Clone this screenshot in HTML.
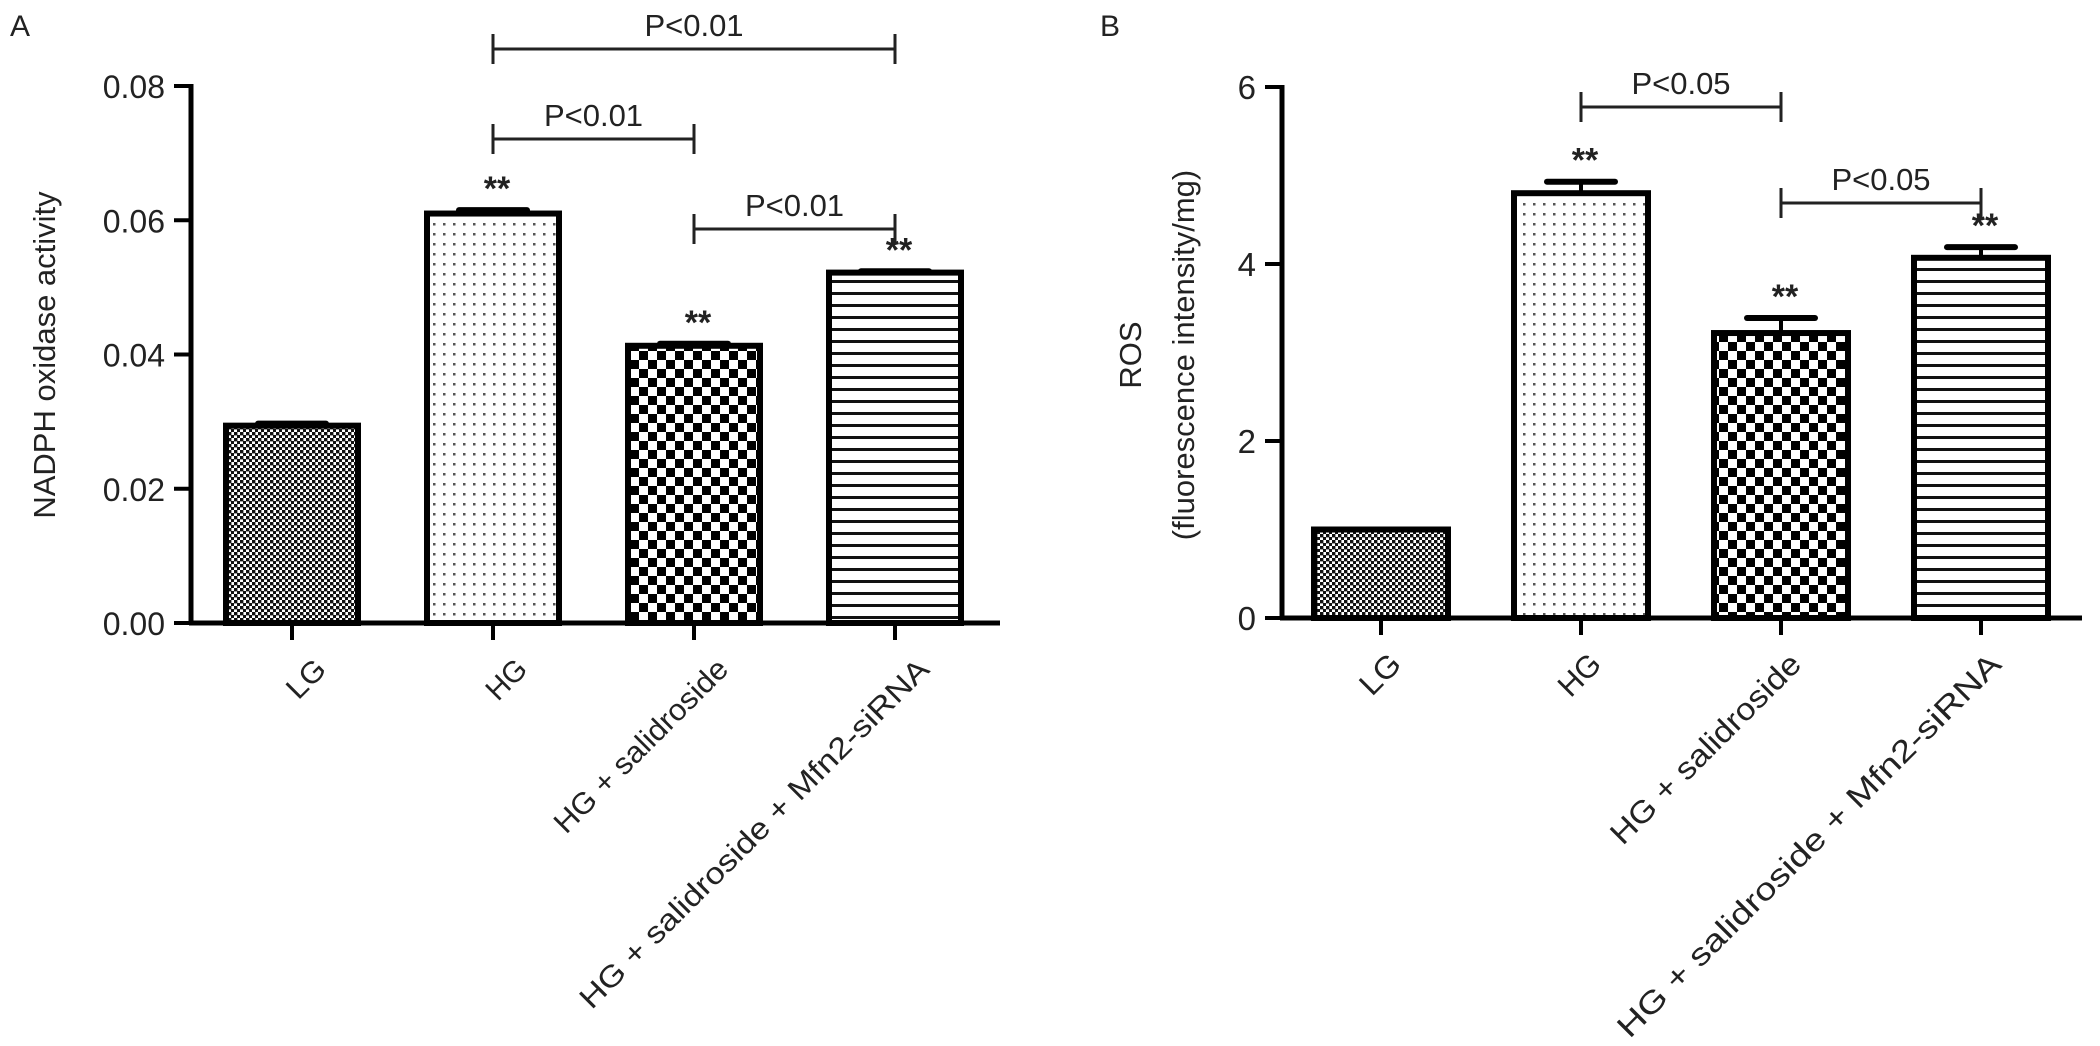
<!DOCTYPE html>
<html><head><meta charset="utf-8"><style>
html,body{margin:0;padding:0;background:#fff}
svg{display:block;font-family:"Liberation Sans",Arial,sans-serif}
</style></head><body>
<svg id="fig" width="2100" height="1046" viewBox="0 0 2100 1046">
<defs>
<pattern id="pLG" width="6" height="6" patternUnits="userSpaceOnUse"><rect width="6" height="6" fill="#fff"/><rect width="3.4" height="3.4" fill="#111"/><rect x="3" y="3" width="3.4" height="3.4" fill="#111"/></pattern>
<pattern id="pHG" width="10" height="10" patternUnits="userSpaceOnUse"><rect width="10" height="10" fill="#fff"/><rect x="3" y="3" width="2.5" height="2.5" fill="#555"/></pattern>
<pattern id="pSal" width="18" height="18" patternUnits="userSpaceOnUse"><rect width="18" height="18" fill="#fff"/><rect width="9" height="9" fill="#000"/><rect x="9" y="9" width="9" height="9" fill="#000"/></pattern>
<pattern id="pMfn" width="12" height="12" patternUnits="userSpaceOnUse"><rect width="12" height="12" fill="#fff"/><rect y="4" width="12" height="3" fill="#111"/></pattern>
</defs>
<g id="gA"></g>
<g id="gB"></g>
</svg>
<script>
const categories = ["LG", "HG", "HG + salidroside", "HG + salidroside + Mfn2-siRNA"];
const valuesA = [0.0294, 0.0610, 0.0413, 0.0522];
const errorsA = [0.0003, 0.0005, 0.0003, 0.0002];
const ticksA = ["0.00", "0.02", "0.04", "0.06", "0.08"];
const valuesB = [1.0, 4.80, 3.22, 4.07];
const errorsB = [0.0, 0.13, 0.17, 0.12];
const ticksB = ["0", "2", "4", "6"];
const starsA = [false, true, true, true];
const starsB = [false, true, true, true];
const patterns = ["url(#pLG)", "url(#pHG)", "url(#pSal)", "url(#pMfn)"];

const NS = "http://www.w3.org/2000/svg";
function mk(parent, tag, attrs, text) {
  const e = document.createElementNS(NS, tag);
  for (const k in attrs) e.setAttribute(k, attrs[k]);
  if (text !== undefined) e.textContent = text;
  parent.appendChild(e);
  return e;
}

function drawPanel(g, cfg) {
  const y = v => cfg.y0 - (v - cfg.min) / (cfg.max - cfg.min) * (cfg.y0 - cfg.yTop);
  const x = i => cfg.x0 + i * cfg.step;
  let e = mk(g, "line", {x1: cfg.axisX, y1: y(cfg.max) - 2, x2: cfg.axisX, y2: cfg.y0 + 2, stroke: "#000", "stroke-width": 5});
  
  
  cfg.ticks.forEach(t => {
    const ty = y(parseFloat(t));
    let l = mk(g, "line", {x1: cfg.axisX - 17, y1: ty, x2: cfg.axisX, y2: ty, stroke: "#000", "stroke-width": 4});
    
    
    let tx = mk(g, "text", {x: cfg.axisX - 26, y: ty + 12, "text-anchor": "end", "font-size": cfg.tickFont, fill: "#222"}, t);
    
    
  });
  e = mk(g, "line", {x1: cfg.axisX - 2, y1: cfg.y0, x2: cfg.axisEnd, y2: cfg.y0, stroke: "#000", "stroke-width": 5});
  
  
  cfg.values.forEach((v, i) => {
    const cx = x(i), w = cfg.barW, top = y(v);
    let r = mk(g, "rect", {x: cx - w / 2, y: top, width: w, height: cfg.y0 - top, fill: patterns[i], stroke: "#000", "stroke-width": 6});
    
    
    const err = cfg.errors[i];
    if (err > 0) {
      const ey = y(v + err);
      let el = mk(g, "line", {x1: cx, y1: top, x2: cx, y2: ey, stroke: "#000", "stroke-width": 4});
      
      
      let ec = mk(g, "line", {x1: cx - 34, y1: ey, x2: cx + 34, y2: ey, stroke: "#000", "stroke-width": 6, "stroke-linecap": "round"});
      
      
    }
    if (cfg.stars[i]) {
      let s = mk(g, "text", {x: cx + 4, y: y(v + err) - 10, "text-anchor": "middle", "font-size": 34, "font-weight": "bold", fill: "#222"}, "**");
      
      
    }
    let tk = mk(g, "line", {x1: cx, y1: cfg.y0, x2: cx, y2: cfg.y0 + 17, stroke: "#000", "stroke-width": 4});
    
    
    const lx = cx + cfg.labDx, ly = cfg.y0 + 48;
    const len = cfg.labelLen[i];
    let lt = mk(g, "text", {x: lx, y: ly, "text-anchor": "end", "font-size": cfg.labFont, fill: "#222", transform: `rotate(-45 ${lx} ${ly})`, textLength: len, lengthAdjust: "spacingAndGlyphs"}, categories[i]);
    
    
  });
  cfg.brackets.forEach(b => {
    const x1 = x(b[0]), x2 = x(b[1]), by = b[2];
    let bl = mk(g, "path", {d: `M${x1} ${by - 15}V${by + 15}M${x1} ${by}H${x2}M${x2} ${by - 15}V${by + 15}`, stroke: "#222", "stroke-width": 3, fill: "none"});
    
    
    let bt = mk(g, "text", {x: (x1 + x2) / 2, y: by - 13, "text-anchor": "middle", "font-size": 31, fill: "#222"}, b[3]);
    
    
  });
}

const gA = document.getElementById("gA");
drawPanel(gA, {min: 0, max: 0.08, y0: 623, yTop: 86, axisX: 191, axisEnd: 1000, x0: 292, step: 201, barW: 132,
  values: valuesA, errors: errorsA, ticks: ticksA, stars: starsA, tickFont: 32, labFont: 30, labDx: 36,
  labelLen: [42, 44, 232, 480],
  brackets: [[1, 3, 49, "P<0.01"], [1, 2, 139, "P<0.01"], [2, 3, 229, "P<0.01"]]});
let t = mk(gA, "text", {x: 10, y: 36, "font-size": 30, fill: "#222"}, "A");


t = mk(gA, "text", {x: 0, y: 0, "font-size": 31, fill: "#222", "text-anchor": "middle", transform: "translate(55 355) rotate(-90)"}, "NADPH oxidase activity");



const gB = document.getElementById("gB");
drawPanel(gB, {min: 0, max: 6, y0: 618, yTop: 87, axisX: 1282, axisEnd: 2082, x0: 1381, step: 200, barW: 134,
  values: valuesB, errors: errorsB, ticks: ticksB, stars: starsB, tickFont: 33, labFont: 31, labDx: 22,
  labelLen: [44, 46, 255, 528],
  brackets: [[1, 2, 107, "P<0.05"], [2, 3, 203, "P<0.05"]]});
t = mk(gB, "text", {x: 1100, y: 36, "font-size": 30, fill: "#222"}, "B");


t = mk(gB, "text", {x: 0, y: 0, "font-size": 31, fill: "#222", "text-anchor": "middle", transform: "translate(1141 355) rotate(-90)"}, "ROS");


t = mk(gB, "text", {x: 0, y: 0, "font-size": 31, fill: "#222", "text-anchor": "middle", transform: "translate(1194 355) rotate(-90)"}, "(fluorescence intensity/mg)");


</script>
</body></html>
